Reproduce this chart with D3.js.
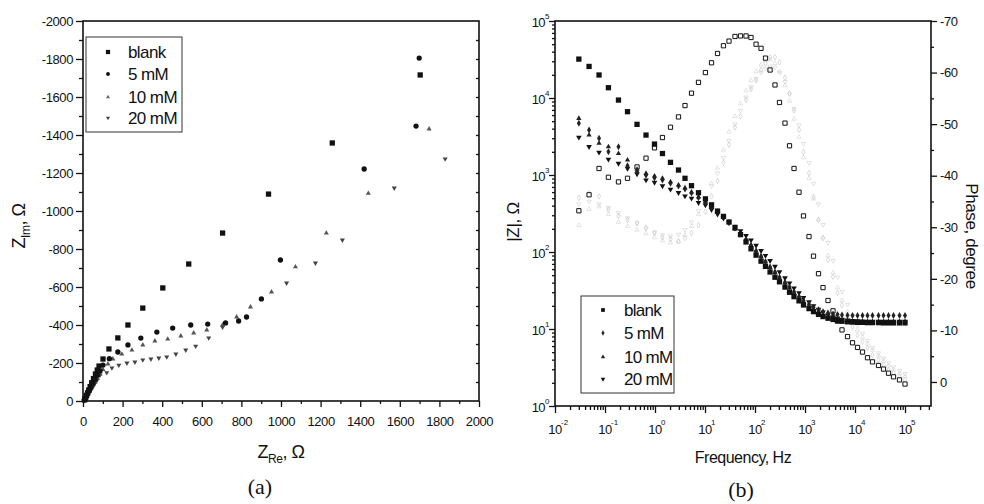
<!DOCTYPE html>
<html>
<head>
<meta charset="utf-8">
<script src="https://cdn.jsdelivr.net/npm/d3@7"></script>
<style>
  html, body { margin: 0; padding: 0; background: #fff; }
  svg { display: block; }
  text { font-family: "Liberation Sans", Arial, sans-serif; fill: #111; }
</style>
</head>
<body>
<svg id="chart" width="984" height="504"></svg>
<script>
// ---------- Nyquist data (panel a): Z_Re and Z_Im in ohm ----------
const series = ["blank", "5 mM", "10 mM", "20 mM"];

const nyqBlankRe = [8, 11, 14, 18, 23, 29, 36, 44, 53, 63, 72, 81, 101, 131, 176, 227, 302, 403, 534, 705, 937, 1259, 1703];
const nyqBlankIm = [-6, -12, -20, -30, -43, -58, -76, -96, -118, -142, -163, -184, -221, -274, -332, -400, -489, -595, -721, -884, -1089, -1358, -1716];

const nyq5Re = [6, 10, 14, 19, 25, 32, 40, 50, 61, 73, 86, 101, 133, 176, 227, 292, 373, 453, 544, 630, 720, 786, 826, 901, 997, 1420, 1682, 1698];
const nyq5Im = [-5, -11, -19, -30, -42, -56, -72, -92, -113, -135, -158, -189, -223, -258, -295, -331, -363, -384, -400, -405, -411, -421, -442, -537, -742, -1221, -1447, -1805];

const nyq10Re = [6, 10, 14, 19, 25, 32, 40, 50, 61, 73, 86, 101, 126, 151, 196, 247, 302, 363, 428, 494, 559, 625, 705, 776, 846, 952, 1073, 1229, 1441, 1748];
const nyq10Im = [-4, -10, -17, -26, -37, -50, -64, -82, -100, -120, -140, -165, -195, -221, -247, -268, -295, -316, -326, -342, -358, -374, -400, -442, -495, -574, -706, -884, -1093, -1432];

const nyq20Re = [5, 9, 13, 18, 24, 31, 39, 48, 58, 70, 86, 120, 146, 181, 222, 262, 302, 343, 383, 423, 469, 519, 569, 635, 705, 1028, 1174, 1310, 1572, 1829];
const nyq20Im = [-3, -8, -14, -21, -30, -42, -55, -70, -88, -108, -137, -149, -174, -189, -200, -205, -216, -221, -226, -232, -247, -268, -289, -332, -389, -621, -726, -847, -1121, -1274];

// ---------- Bode data (panel b) ----------
const freqHz = [0.030, 0.048, 0.076, 0.117, 0.186, 0.282, 0.437, 0.661, 0.977, 1.41, 2.04, 2.95, 3.98, 5.37, 7.41,
  10.2, 13.5, 17.8, 23.4, 30.2, 39.8, 51.3, 66.1, 83.2, 105, 132, 162, 200, 251, 309, 398, 490, 603, 759, 933,
  1202, 1479, 1862, 2291, 2884, 3631, 4467, 5495, 7079, 8913, 11220, 14125, 17783, 22387, 29512, 37154, 46774,
  58884, 77625, 100000];

const modBlank = [32000, 25700, 19900, 13600, 9400, 6640, 4550, 3300, 2520, 1900, 1460, 1160, 906, 726, 589, 490, 410,
  340, 290, 245, 205, 168, 135, 110, 91, 76, 65, 55, 47, 41, 35, 30, 26.3, 23.2, 20.5, 18.4, 16.8, 15.5, 14.5, 13.8,
  13.3, 12.9, 12.6, 12.4, 12.3, 12.2, 12.2, 12.1, 12.1, 12.1, 12.0, 12.0, 12.0, 12.0, 12.0];
const mod5 = [4690, 3840, 3000, 2000, 2330, 1320, 1100, 990, 920, 860, 780, 720, 660, 585, 505, 440, 380, 330, 280, 240,
  205, 172, 145, 122, 103, 88, 75, 64, 55, 47, 40.5, 35, 30.5, 26.5, 23.5, 21, 19.2, 17.8, 16.8, 16.1, 15.7, 15.4,
  15.2, 15.1, 15.0, 15.0, 15.0, 15.0, 15.0, 15.0, 15.0, 15.0, 15.0, 15.0, 15.0];
const mod10 = [5440, 3300, 2580, 2330, 1900, 1570, 1190, 1050, 970, 906, 818, 741, 680, 600, 520, 450, 390, 335, 285,
  243, 207, 174, 146, 122, 103, 87, 74, 63, 54, 46, 39.5, 34, 29.5, 25.8, 22.8, 20.2, 18.2, 16.6, 15.4, 14.5, 13.8,
  13.3, 13.0, 12.8, 12.7, 12.6, 12.6, 12.5, 12.5, 12.5, 12.5, 12.5, 12.5, 12.5, 12.5];
const mod20 = [3090, 2330, 1970, 1600, 1410, 1220, 1030, 860, 800, 720, 652, 589, 533, 498, 437, 407, 355, 310, 275,
  245, 215, 188, 163, 143, 122, 104, 90, 77, 65, 55, 46, 39.5, 34, 29.5, 25.5, 22.5, 20, 18, 16.5, 15.3, 14.4, 13.8,
  13.3, 13.0, 12.8, 12.7, 12.6, 12.6, 12.6, 12.6, 12.6, 12.6, 12.6, 12.6, 12.6];

const phaseBlank = [-33.2, -36.3, -41.4, -39.7, -38.8, -39.5, -41.7, -43.4, -45.4, -47.4, -49.4, -51.4, -53.6, -56.0,
  -58.1, -60.0, -61.9, -63.7, -65.2, -66.1, -67.0, -67.1, -67.1, -66.8, -65.5, -64.7, -62.8, -60.5, -57.6, -54.2,
  -50.2, -45.8, -41.4, -36.8, -32.2, -28.2, -24.4, -21.0, -18.3, -15.8, -13.8, -11.8, -10.1, -8.8, -7.6, -6.7, -5.8,
  -4.7, -3.9, -3.2, -2.5, -1.7, -1.0, -0.4, 0.4];
const phase5 = [-35.7, -36.6, -36.0, -33.4, -32.2, -31.4, -30.8, -29.9, -28.9, -28.1, -27.7, -27.3, -27.9, -28.9,
  -30.4, -33.0, -36.0, -39.0, -42.5, -46.0, -49.4, -51.5, -54.7, -56.8, -58.5, -60.5, -61.8, -63.0, -63.0, -62.0,
  -59.0, -56.0, -52.7, -48.9, -44.6, -40.5, -35.9, -31.4, -27.9, -23.7, -20.4, -17.3, -14.9, -12.6, -10.7, -9.1,
  -7.8, -6.6, -5.2, -4.3, -3.3, -2.3, -1.7, -1.0, -0.4];
const phase10 = [-30.4, -33.5, -34, -32.5, -31, -30.2, -29.5, -28.8, -28, -27.4, -27, -27.2, -28.5, -30.2, -32.5,
  -35.5, -38.5, -41.5, -45, -48.5, -51.5, -54, -56.5, -58.5, -60.2, -61.5, -62.3, -62.5, -61.8, -60.2, -57.5, -54.5,
  -51, -47.5, -43.5, -39.5, -35.5, -31.5, -28, -24.5, -21.2, -18.3, -15.8, -13.6, -11.7, -10.1, -8.7, -7.4, -6.2,
  -5.1, -4.1, -3.2, -2.4, -1.7, -1.1];
const phase20 = [-34.5, -35, -34.5, -33.8, -32.8, -31.8, -30.8, -29.8, -29, -28.5, -28.3, -28.6, -29.5, -31, -33.2,
  -35.5, -38, -40.5, -43.5, -46.8, -50, -52.6, -55.2, -57.2, -58.8, -60, -60.8, -61.2, -61, -60, -58.2, -55.8, -53,
  -49.8, -46.2, -42.5, -38.5, -34.5, -30.5, -27, -23.5, -20.3, -17.5, -15, -12.9, -11, -9.4, -8, -6.7, -5.6, -4.6,
  -3.7, -2.9, -2.2, -1.6];

// axis tick values
const reTicks = [0, 200, 400, 600, 800, 1000, 1200, 1400, 1600, 1800, 2000];
const imTicks = [0, -200, -400, -600, -800, -1000, -1200, -1400, -1600, -1800, -2000];
const decadeExp = [-2, -1, 0, 1, 2, 3, 4, 5];
const modExp = [0, 1, 2, 3, 4, 5];
const phaseTicks = [0, -10, -20, -30, -40, -50, -60, -70];

// ---------- drawing ----------
const svg = d3.select("#chart");
svg.append("rect").attr("width", 984).attr("height", 504).attr("fill", "#fff");

const sym = (type, size) => d3.symbol().type(type).size(size)();
const shapes = {
  square: d3.symbolSquare, circle: d3.symbolCircle, diamond: d3.symbolDiamond, tri: d3.symbolTriangle
};
function drawPoints(g, pts, opt) {
  g.selectAll(null).data(pts).join("path")
    .attr("d", sym(shapes[opt.shape], opt.size))
    .attr("transform", d => `translate(${d[0]},${d[1]})` + (opt.down ? " rotate(180)" : ""))
    .attr("fill", opt.fill)
    .attr("stroke", opt.stroke || "none")
    .attr("stroke-width", opt.sw || 0);
}

// ===== Panel (a): Nyquist =====
const xA = d3.scaleLinear().domain([0, 2000]).range([83, 479]);
const yA = d3.scaleLinear().domain([0, -2000]).range([401, 21]);
const gA = svg.append("g");

function styleAxis(sel, fs) {
  sel.select(".domain").remove();
  sel.selectAll("line").attr("stroke", "#111").attr("stroke-width", 1.3);
  sel.selectAll("text").attr("font-size", fs).attr("letter-spacing", -0.4).attr("fill", "#111");
}

// minor ticks
gA.append("g").attr("transform", "translate(0,401)")
  .call(d3.axisBottom(xA).tickValues(d3.range(100, 2000, 200)).tickSize(3).tickFormat(""))
  .call(s => styleAxis(s, 13));
gA.append("g").attr("transform", "translate(83,0)")
  .call(d3.axisLeft(yA).tickValues(d3.range(-100, -2000, -200)).tickSize(4).tickFormat(""))
  .call(s => styleAxis(s, 13));
// right-side mirror ticks
gA.append("g").attr("transform", "translate(479,0)")
  .call(d3.axisLeft(yA).tickValues(d3.range(-100, -2000, -100)).tickSize(3).tickFormat(""))
  .call(s => styleAxis(s, 13));
// major ticks with labels
gA.append("g").attr("transform", "translate(0,401)")
  .call(d3.axisBottom(xA).tickValues(reTicks).tickSize(6).tickPadding(10).tickFormat(d => String(d)))
  .call(s => styleAxis(s, 13));
gA.append("g").attr("transform", "translate(83,0)")
  .call(d3.axisLeft(yA).tickValues(imTicks).tickSize(7).tickPadding(3).tickFormat(d => String(d)))
  .call(s => styleAxis(s, 13));

gA.append("rect").attr("x", 83).attr("y", 21).attr("width", 396).attr("height", 380)
  .attr("fill", "none").attr("stroke", "#111").attr("stroke-width", 1.6);

const zipA = (re, im) => re.map((r, i) => [xA(r), yA(im[i])]);
drawPoints(gA, zipA(nyq20Re, nyq20Im), { shape: "tri", size: 11, fill: "#444", down: true });
drawPoints(gA, zipA(nyq10Re, nyq10Im), { shape: "tri", size: 11, fill: "#555" });
drawPoints(gA, zipA(nyq5Re, nyq5Im), { shape: "circle", size: 22, fill: "#111" });
drawPoints(gA, zipA(nyqBlankRe, nyqBlankIm), { shape: "square", size: 28, fill: "#111" });

// legend (a)
const legA = gA.append("g");
legA.append("rect").attr("x", 86).attr("y", 37).attr("width", 96).attr("height", 95)
  .attr("fill", "#fff").attr("stroke", "#333").attr("stroke-width", 1);
const legStylesA = [
  { shape: "square", size: 18, fill: "#111" },
  { shape: "circle", size: 12, fill: "#111" },
  { shape: "tri", size: 7, fill: "#666" },
  { shape: "tri", size: 7, fill: "#444", down: true }
];
const legYA = [52, 74, 97, 118];
series.forEach((name, i) => {
  drawPoints(legA, [[108, legYA[i]]], legStylesA[i]);
  legA.append("text").attr("x", 128).attr("y", legYA[i]).attr("dy", "0.35em")
    .attr("font-size", 17).attr("letter-spacing", -0.6).text(name);
});

// axis titles (a)
const xTitleA = gA.append("text").attr("x", 281).attr("y", 458).attr("text-anchor", "middle")
  .attr("font-size", 18).attr("letter-spacing", -0.5);
xTitleA.append("tspan").text("Z");
xTitleA.append("tspan").attr("font-size", 12).attr("dy", 5).text("Re");
xTitleA.append("tspan").attr("dy", -5).text(", Ω");

const yTitleA = gA.append("text").attr("transform", "translate(25,226) rotate(-90)")
  .attr("text-anchor", "middle").attr("font-size", 18).attr("letter-spacing", -0.5);
yTitleA.append("tspan").text("Z");
yTitleA.append("tspan").attr("font-size", 12).attr("dy", 5).text("Im");
yTitleA.append("tspan").attr("dy", -5).text(", Ω");

svg.append("text").attr("x", 260).attr("y", 494).attr("text-anchor", "middle")
  .style("font-family", "'Liberation Serif', 'Times New Roman', serif").attr("font-size", 22).text("(a)");

// ===== Panel (b): Bode =====
const xB = d3.scaleLog().domain([0.01, 331000]).range([555, 931]);
const yB = d3.scaleLog().domain([1, 1e5]).range([406, 21]);
const yP = d3.scaleLinear().domain([4.66, -70]).range([406, 21]);
const gB = svg.append("g");

// minor log ticks
const minorX = [];
decadeExp.forEach(e => { for (let m = 2; m <= 9; m++) { const v = m * Math.pow(10, e); if (v < 331000) minorX.push(v); } });
const minorY = [];
modExp.slice(0, 5).forEach(e => { for (let m = 2; m <= 9; m++) minorY.push(m * Math.pow(10, e)); });

gB.append("g").attr("transform", "translate(0,406)")
  .call(d3.axisBottom(xB).tickValues(minorX).tickSize(4).tickFormat(""))
  .call(s => styleAxis(s, 13));
gB.append("g").attr("transform", "translate(0,406)")
  .call(d3.axisBottom(xB).tickValues(decadeExp.map(e => Math.pow(10, e))).tickSize(7).tickFormat(""))
  .call(s => styleAxis(s, 13));
gB.append("g").attr("transform", "translate(555,0)")
  .call(d3.axisLeft(yB).tickValues(minorY).tickSize(3).tickFormat(""))
  .call(s => styleAxis(s, 13));
gB.append("g").attr("transform", "translate(555,0)")
  .call(d3.axisLeft(yB).tickValues(modExp.map(e => Math.pow(10, e))).tickSize(6).tickFormat(""))
  .call(s => styleAxis(s, 13));
gB.append("g").attr("transform", "translate(931,0)")
  .call(d3.axisRight(yP).tickValues(d3.range(-5, -70, -10)).tickSize(3).tickFormat(""))
  .call(s => styleAxis(s, 13));
gB.append("g").attr("transform", "translate(931,0)")
  .call(d3.axisRight(yP).tickValues(phaseTicks).tickSize(6).tickPadding(3).tickFormat(d => String(d)))
  .call(s => styleAxis(s, 13));

// power-of-ten labels
decadeExp.forEach(e => {
  const x = xB(Math.pow(10, e));
  gB.append("text").attr("x", x).attr("y", 434).attr("text-anchor", "middle")
    .attr("font-size", 13).attr("letter-spacing", -0.6).text("10");
  gB.append("text").attr("x", x + 6).attr("y", 425).attr("text-anchor", "start")
    .attr("font-size", 8).text(String(e));
});
modExp.forEach(e => {
  const y = yB(Math.pow(10, e));
  gB.append("text").attr("x", 545).attr("y", y + 6).attr("text-anchor", "end")
    .attr("font-size", 13).attr("letter-spacing", -0.6).text("10");
  gB.append("text").attr("x", 545).attr("y", y - 2).attr("text-anchor", "start")
    .attr("font-size", 8).text(String(e));
});

gB.append("rect").attr("x", 555).attr("y", 21).attr("width", 376).attr("height", 385)
  .attr("fill", "none").attr("stroke", "#111").attr("stroke-width", 1.6);

const zipB = (vals, scale) => vals.map((v, i) => [xB(freqHz[i]), scale(v)]);
// phase of the inhibited solutions: faint open symbols
drawPoints(gB, zipB(phase20, yP), { shape: "tri", size: 8, fill: "none", stroke: "#cfcfcf", sw: 0.6, down: true });
drawPoints(gB, zipB(phase10, yP), { shape: "tri", size: 8, fill: "none", stroke: "#d2d2d2", sw: 0.6 });
drawPoints(gB, zipB(phase5, yP), { shape: "diamond", size: 9, fill: "none", stroke: "#c2c2c2", sw: 0.6 });
// phase of the blank: open squares
drawPoints(gB, zipB(phaseBlank, yP), { shape: "square", size: 18, fill: "#fff", stroke: "#111", sw: 1 });
// impedance modulus: filled symbols
drawPoints(gB, zipB(mod20, yB), { shape: "tri", size: 14, fill: "#111", down: true });
drawPoints(gB, zipB(mod10, yB), { shape: "tri", size: 12, fill: "#222" });
drawPoints(gB, zipB(mod5, yB), { shape: "diamond", size: 14, fill: "#222" });
drawPoints(gB, zipB(modBlank, yB), { shape: "square", size: 28, fill: "#111" });

// legend (b)
const legB = gB.append("g");
legB.append("rect").attr("x", 581).attr("y", 296).attr("width", 93).attr("height", 97)
  .attr("fill", "#fff").attr("stroke", "#333").attr("stroke-width", 1);
const legStylesB = [
  { shape: "square", size: 14, fill: "#111" },
  { shape: "diamond", size: 8, fill: "#222" },
  { shape: "tri", size: 8, fill: "#222" },
  { shape: "tri", size: 9, fill: "#111", down: true }
];
const legYB = [310, 333, 357, 379];
series.forEach((name, i) => {
  drawPoints(legB, [[603, legYB[i]]], legStylesB[i]);
  legB.append("text").attr("x", 624).attr("y", legYB[i]).attr("dy", "0.35em")
    .attr("font-size", 17).attr("letter-spacing", -0.7).text(name);
});

// axis titles (b)
gB.append("text").attr("x", 743).attr("y", 463).attr("text-anchor", "middle")
  .attr("font-size", 16).attr("letter-spacing", -0.5).text("Frequency, Hz");
gB.append("text").attr("transform", "translate(519,222) rotate(-90)").attr("text-anchor", "middle")
  .attr("font-size", 17).attr("letter-spacing", -0.3).text("|Z|, Ω");
gB.append("text").attr("transform", "translate(966,236) rotate(90)").attr("text-anchor", "middle")
  .attr("font-size", 17).attr("letter-spacing", -0.4).text("Phase, degree");

svg.append("text").attr("x", 741).attr("y", 497).attr("text-anchor", "middle")
  .style("font-family", "'Liberation Serif', 'Times New Roman', serif").attr("font-size", 22).text("(b)");
</script>
</body>
</html>
